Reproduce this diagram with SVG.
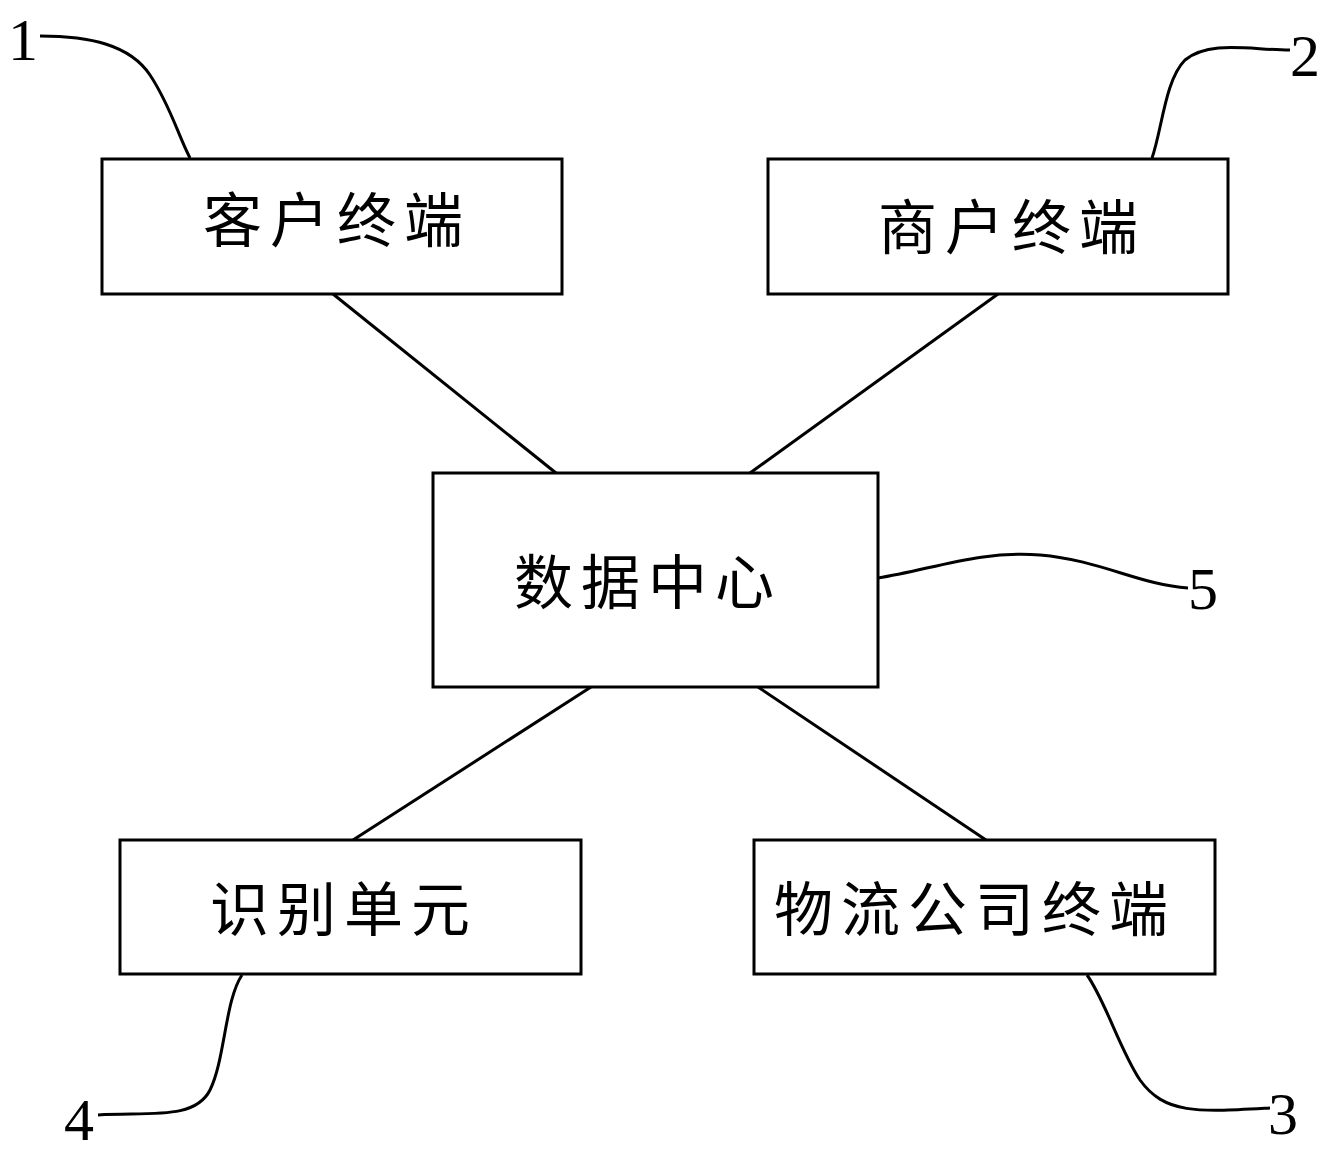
<svg xmlns="http://www.w3.org/2000/svg" width="1332" height="1153" viewBox="0 0 1332 1153">
<style>
.box{fill:#fff;stroke:#000;stroke-width:3}
.ln{fill:none;stroke:#000;stroke-width:3}
.lbl{font-family:"Noto Sans CJK SC","Noto Sans CJK JP",sans-serif;font-size:59px;letter-spacing:8px;fill:#000;text-anchor:middle;dominant-baseline:central}
.num{font-family:"Liberation Serif",serif;font-size:60px;fill:#000}
</style>
<rect width="1332" height="1153" fill="#fff"/>
<g id="connectors">
<line class="ln" x1="333" y1="294" x2="556" y2="473"/>
<line class="ln" x1="998" y1="294" x2="750" y2="473"/>
<line class="ln" x1="591" y1="687" x2="353" y2="840"/>
<line class="ln" x1="758" y1="687" x2="986" y2="840"/>
</g>
<g id="leaders">
<path class="ln" d="M40,36 C90,36 130,45 150,75 C170,105 178,135 190,158"/>
<path class="ln" d="M1290,50 C1250,50 1210,40 1185,60 C1165,80 1162,130 1152,158"/>
<path class="ln" d="M878,578 C930,570 980,550 1040,555 C1100,560 1140,585 1188,588"/>
<path class="ln" d="M242,975 C225,1000 225,1060 210,1090 C195,1120 150,1112 98,1115"/>
<path class="ln" d="M1087,975 C1105,1000 1120,1050 1140,1080 C1165,1115 1200,1112 1270,1108"/>
</g>
<g id="n1"><rect class="box" x="102" y="159" width="460" height="135"/><text class="lbl" x="337" y="216">客户终端</text></g>
<g id="n2"><rect class="box" x="768" y="159" width="460" height="135"/><text class="lbl" x="1012" y="223">商户终端</text></g>
<g id="n5"><rect class="box" x="433" y="473" width="445" height="214"/><text class="lbl" x="648" y="578">数据中心</text></g>
<g id="n4"><rect class="box" x="120" y="840" width="461" height="134"/><text class="lbl" x="344" y="905">识别单元</text></g>
<g id="n3"><rect class="box" x="754" y="840" width="461" height="134"/><text class="lbl" x="975" y="905">物流公司终端</text></g>
<g id="numbers">
<text class="num" x="8" y="60">1</text>
<text class="num" x="1290" y="76">2</text>
<text class="num" x="1268" y="1134">3</text>
<text class="num" x="64" y="1140">4</text>
<text class="num" x="1188" y="609">5</text>
</g>
</svg>
